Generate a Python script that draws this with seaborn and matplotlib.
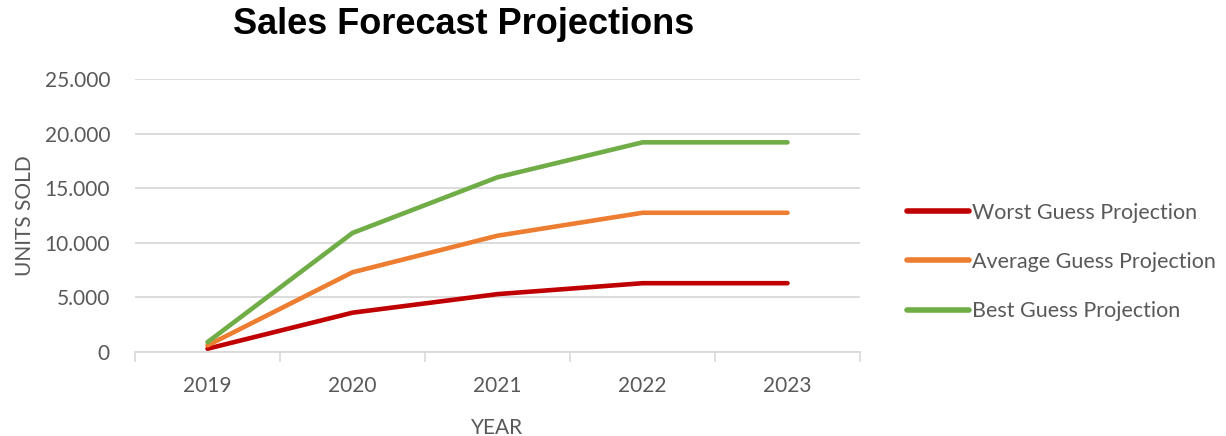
import matplotlib
matplotlib.use("Agg")
import matplotlib.pyplot as plt
import seaborn as sns
import pandas as pd
from matplotlib.ticker import FuncFormatter, FixedLocator

years = ["2019", "2020", "2021", "2022", "2023"]
worst = [300, 3600, 5300, 6300, 6300]
average = [600, 7300, 10650, 12750, 12750]
best = [900, 10900, 16000, 19200, 19200]
series_names = ["Worst Guess Projection", "Average Guess Projection", "Best Guess Projection"]
colors = ["#C00000", "#ED7D31", "#70AD47"]

rows = []
for name, vals in zip(series_names, [worst, average, best]):
    for i, (y, v) in enumerate(zip(years, vals)):
        rows.append({"pos": i, "year": y, "units": v, "series": name})
df = pd.DataFrame(rows)

sns.set_theme(style="white")
plt.rcParams["font.family"] = ["Lato", "DejaVu Sans"]

fig = plt.figure(figsize=(12.26, 4.36), dpi=100)
ax = fig.add_axes([135/1226, 84/436, 725/1226, 273/436])

sns.lineplot(data=df, x="pos", y="units", hue="series", hue_order=series_names,
             palette=colors, linewidth=3.3, ax=ax, legend=True,
             solid_capstyle="round")

ax.set_xlim(-0.5, 4.5)
ax.set_ylim(0, 25000)
ax.set_yticks([0, 5000, 10000, 15000, 20000, 25000])
ax.yaxis.set_major_formatter(FuncFormatter(lambda v, p: "0" if v == 0 else f"{int(v):,}".replace(",", ".")))
ax.set_xticks(range(len(years)))
ax.set_xticklabels(years)
ax.xaxis.set_minor_locator(FixedLocator([-0.5, 0.5, 1.5, 2.5, 3.5, 4.5]))
ax.tick_params(axis="x", which="major", length=0, pad=17, labelsize=15, labelcolor="#595959")
ax.tick_params(axis="x", which="minor", length=7, width=1.2, color="#D9D9D9", bottom=True)
ax.tick_params(axis="y", length=0, pad=18, labelsize=15, labelcolor="#595959")

ax.grid(axis="y", color="#D9D9D9", linewidth=1.3)
ax.grid(axis="x", visible=False)
ax.set_axisbelow(True)
for s in ["top", "right", "left"]:
    ax.spines[s].set_visible(False)
ax.spines["bottom"].set_color("#D9D9D9")
ax.spines["bottom"].set_linewidth(1.3)

ax.set_xlabel("YEAR", fontsize=15, color="#595959", labelpad=16)
ax.set_ylabel("UNITS SOLD", fontsize=15, color="#595959", labelpad=7)

leg = ax.legend(loc="center left", bbox_to_anchor=((907 - 135)/725, (352 - 262)/273), frameon=False,
                fontsize=15.5, labelcolor="#595959", handlelength=2.9, handletextpad=0.1,
                labelspacing=1.35, borderaxespad=0, borderpad=0)
for line in leg.get_lines():
    line.set_linewidth(4)
    line.set_solid_capstyle("round")

fig.text(464/1226, 1 - 25/436, "Sales Forecast Projections", ha="center", va="center",
         fontsize=26, fontweight="bold", family=["Liberation Sans", "DejaVu Sans"], color="black")

fig.savefig("out.png", dpi=100)
